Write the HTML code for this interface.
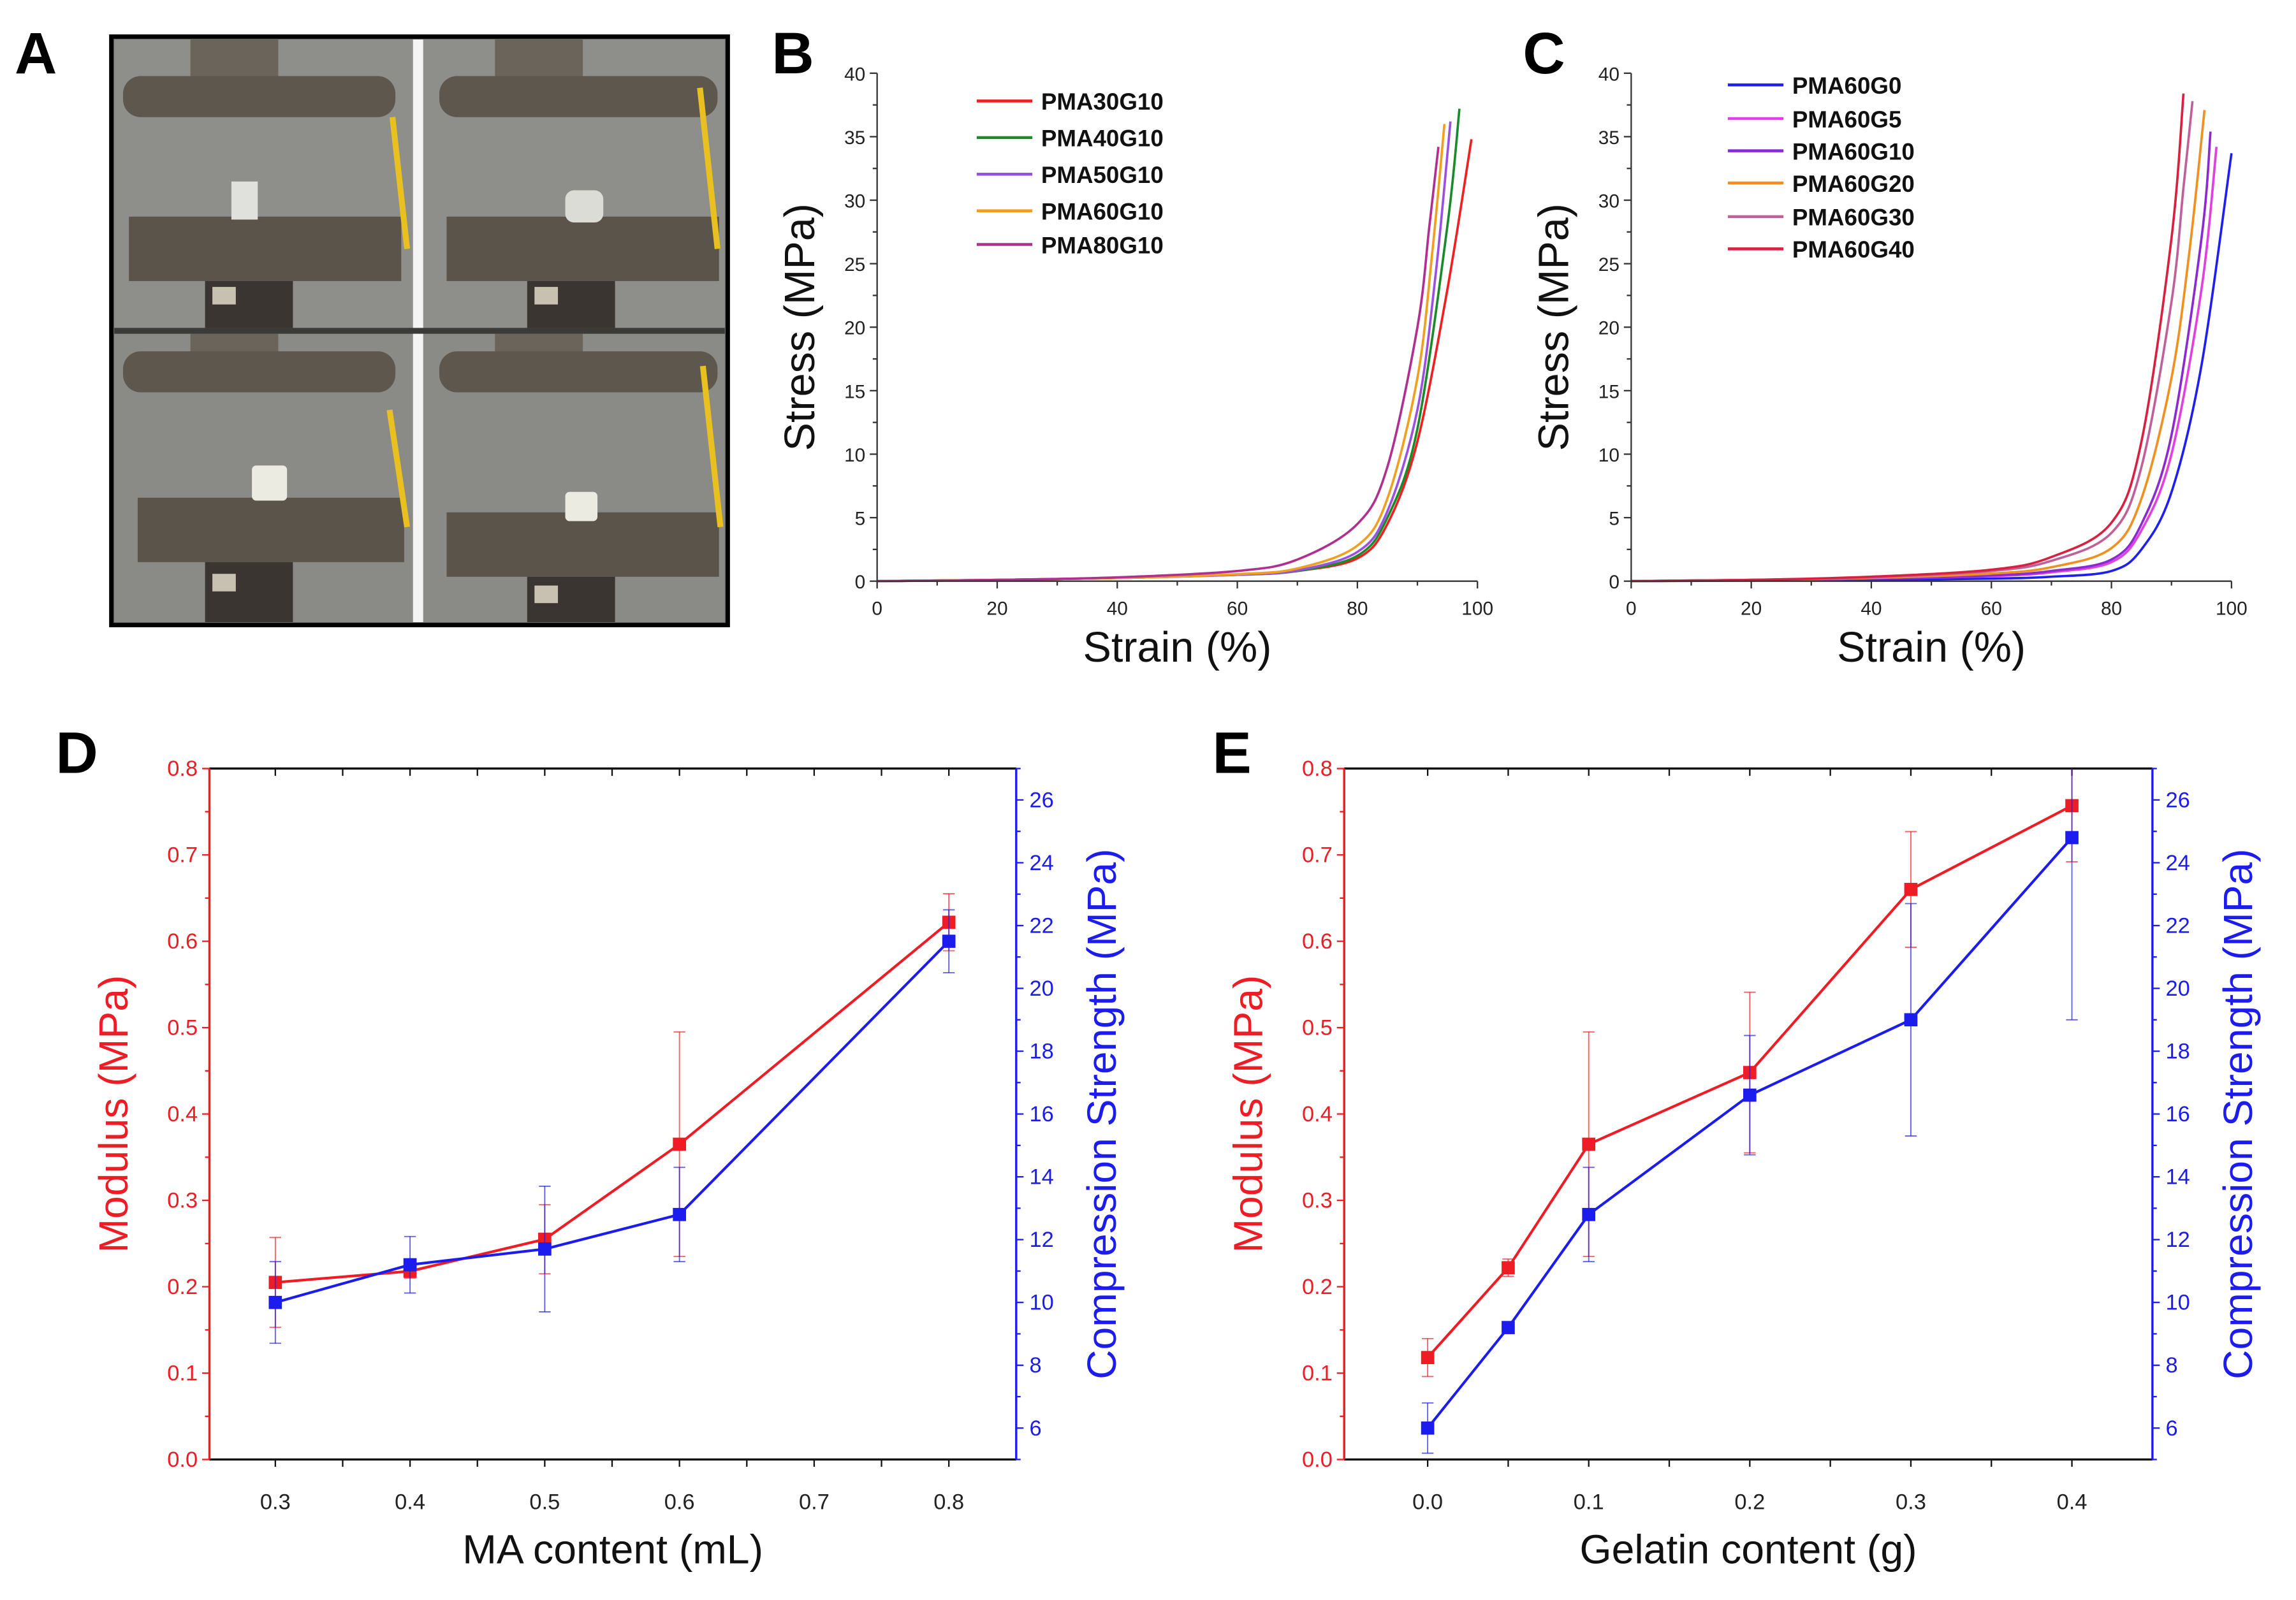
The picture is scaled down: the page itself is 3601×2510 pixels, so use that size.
<!DOCTYPE html>
<html><head><meta charset="utf-8">
<style>
html,body{margin:0;padding:0;background:#fff;}
svg{display:block;}
text{font-family:"Liberation Sans",Arial,sans-serif;}
.tk{font-family:"Liberation Sans Narrow","Liberation Sans",sans-serif;}
</style></head>
<body>
<svg id="fig" xmlns="http://www.w3.org/2000/svg" width="3601" height="2510" viewBox="0 0 1568 1093">
<rect x="0" y="0" width="1568" height="1093" fill="#fff"/>
<g id="photo">
  <rect x="76" y="25" width="421" height="402" fill="#6a6a66" stroke="#000" stroke-width="3"/>
  <rect x="78" y="27" width="204" height="197" fill="#8e8e8a"/>
  <rect x="289" y="27" width="206" height="197" fill="#8e8e8a"/>
  <rect x="78" y="228" width="204" height="197" fill="#8a8a86"/>
  <rect x="289" y="228" width="206" height="197" fill="#8a8a86"/>
  <rect x="282" y="27" width="7" height="398" fill="#f4f4f4"/>
  <rect x="78" y="224" width="417" height="4" fill="#3a3a38"/>
  <rect x="130" y="27" width="60" height="28" fill="#6a645a"/>
  <rect x="84" y="52" width="186" height="28" rx="12" fill="#5e574d"/>
  <rect x="338" y="27" width="60" height="28" fill="#6a645a"/>
  <rect x="300" y="52" width="190" height="28" rx="12" fill="#5e574d"/>
  <rect x="88" y="148" width="186" height="44" fill="#5a544a"/>
  <rect x="305" y="148" width="186" height="44" fill="#5a544a"/>
  <rect x="158" y="124" width="18" height="26" fill="#e0e0dc"/>
  <rect x="386" y="130" width="26" height="22" rx="6" fill="#dcdcd6"/>
  <rect x="140" y="192" width="60" height="32" fill="#3a3530"/>
  <rect x="360" y="192" width="60" height="32" fill="#3a3530"/>
  <rect x="145" y="196" width="16" height="12" fill="#c8c0b0"/>
  <rect x="365" y="196" width="16" height="12" fill="#c8c0b0"/>
  <rect x="130" y="228" width="60" height="20" fill="#6a645a"/>
  <rect x="84" y="240" width="186" height="28" rx="12" fill="#5e574d"/>
  <rect x="338" y="228" width="60" height="20" fill="#6a645a"/>
  <rect x="300" y="240" width="190" height="28" rx="12" fill="#5e574d"/>
  <rect x="94" y="340" width="182" height="44" fill="#5a544a"/>
  <rect x="305" y="350" width="186" height="44" fill="#5a544a"/>
  <rect x="172" y="318" width="24" height="24" rx="3" fill="#ecebe2"/>
  <rect x="386" y="336" width="22" height="20" rx="3" fill="#ecebe2"/>
  <rect x="140" y="384" width="60" height="41" fill="#3a3530"/>
  <rect x="360" y="394" width="60" height="31" fill="#3a3530"/>
  <rect x="145" y="392" width="16" height="12" fill="#c8c0b0"/>
  <rect x="365" y="400" width="16" height="12" fill="#c8c0b0"/>
  <line x1="268" y1="80" x2="278" y2="170" stroke="#e8c020" stroke-width="4"/>
  <line x1="478" y1="60" x2="490" y2="170" stroke="#e8c020" stroke-width="4"/>
  <line x1="266" y1="280" x2="278" y2="360" stroke="#e8c020" stroke-width="4"/>
  <line x1="480" y1="250" x2="492" y2="360" stroke="#e8c020" stroke-width="4"/>
</g>
<defs>
  <clipPath id="clipD"><rect x="143" y="525" width="551" height="472"/></clipPath>
  <clipPath id="clipE"><rect x="918" y="525" width="552" height="472"/></clipPath>
</defs>
</svg>
<script>
// ---------- Data: stress-strain (B) ----------
const bNames = ["PMA30G10","PMA40G10","PMA50G10","PMA60G10","PMA80G10"];
const bColors = ["#ee2020","#1a8a2a","#9a50e0","#f0a020","#b03090"];
const bStrain30 = [0,20,40,60,70,80,85,90,95,99];
const bStress30 = [0,0.1,0.25,0.5,0.8,1.8,4.5,11,23,34.8];
const bStrain40 = [0,20,40,60,70,80,85,90,95,97];
const bStress40 = [0,0.1,0.25,0.5,0.8,2.0,5.0,12,28,37.2];
const bStrain50 = [0,20,40,60,70,80,85,90,93,95.5];
const bStress50 = [0,0.1,0.25,0.5,0.85,2.3,5.5,13.5,24,36.2];
const bStrain60 = [0,20,40,60,70,80,85,90,92.5,94.5];
const bStress60 = [0,0.1,0.25,0.55,1.0,2.8,6.5,16,26,36];
const bStrain80 = [0,20,40,60,70,80,85,90,92,93.5];
const bStress80 = [0,0.1,0.3,0.8,1.7,4.5,9,20,28,34.2];
// ---------- Data: stress-strain (C) ----------
const cNames = ["PMA60G0","PMA60G5","PMA60G10","PMA60G20","PMA60G30","PMA60G40"];
const cColors = ["#2020ee","#e040e0","#8a2ad0","#f09020","#c0609a","#d82040"];
const cStrain0 = [0,20,40,60,70,80,85,90,95,100];
const cStress0 = [0,0.05,0.1,0.2,0.35,0.8,2.5,7,17,33.7];
const cStrain5 = [0,20,40,60,70,80,85,90,95,97.5];
const cStress5 = [0,0.1,0.2,0.4,0.7,1.5,4,10,23,34.2];
const cStrain10 = [0,20,40,60,70,80,85,90,95,96.5];
const cStress10 = [0,0.1,0.2,0.45,0.8,1.7,4.5,11.5,27,35.4];
const cStrain20 = [0,20,40,60,70,80,85,90,93,95.5];
const cStress20 = [0,0.1,0.25,0.6,1.1,2.6,6.5,16,26,37.1];
const cStrain30 = [0,20,40,60,70,80,85,90,92,93.5];
const cStress30 = [0,0.1,0.3,0.8,1.6,3.8,9,22,31,37.8];
const cStrain40 = [0,20,40,60,70,80,85,90,92];
const cStress40 = [0,0.1,0.35,0.9,1.9,4.6,11,27,38.4];
const stressTicks = [0,5,10,15,20,25,30,35,40];
const strainTicks = [0,20,40,60,80,100];
// ---------- Data: D ----------
const dX = [0.3,0.4,0.5,0.6,0.8];
const dMod = [0.205,0.218,0.255,0.365,0.622];
const dModErr = [0.052,0.008,0.04,0.13,0.033];
const dStr = [10.0,11.2,11.7,12.8,21.5];
const dStrErr = [1.3,0.9,2.0,1.5,1.0];
const dXTicks = [0.3,0.4,0.5,0.6,0.7,0.8];
// ---------- Data: E ----------
const eX = [0,0.05,0.1,0.2,0.3,0.4];
const eMod = [0.118,0.222,0.365,0.448,0.66,0.757];
const eModErr = [0.022,0.01,0.13,0.093,0.067,0.065];
const eStr = [6.0,9.2,12.8,16.6,19.0,24.8];
const eStrErr = [0.8,0.15,1.5,1.9,3.7,5.8];
const eXTicks = [0.0,0.1,0.2,0.3,0.4];
const modTicks = [0.0,0.1,0.2,0.3,0.4,0.5,0.6,0.7,0.8];
const strTicks = [6,8,10,12,14,16,18,20,22,24,26];

const NS = "http://www.w3.org/2000/svg";
const svg = document.getElementById('fig');
function add(parent, tag, attrs, name, text) {
  const el = document.createElementNS(NS, tag);
  for (const k in attrs) el.setAttribute(k, attrs[k]);
  
  
  if (text !== undefined) el.textContent = text;
  parent.appendChild(el);
  return el;
}
function smooth(pts) {
  let d = "M" + pts[0][0].toFixed(2) + "," + pts[0][1].toFixed(2);
  for (let i = 0; i < pts.length - 1; i++) {
    const p0 = pts[Math.max(0, i - 1)], p1 = pts[i], p2 = pts[i + 1], p3 = pts[Math.min(pts.length - 1, i + 2)];
    const c1x = p1[0] + (p2[0] - p0[0]) / 6, c1y = p1[1] + (p2[1] - p0[1]) / 6;
    const c2x = p2[0] - (p3[0] - p1[0]) / 6, c2y = p2[1] - (p3[1] - p1[1]) / 6;
    d += " C" + c1x.toFixed(2) + "," + c1y.toFixed(2) + " " + c2x.toFixed(2) + "," + c2y.toFixed(2) + " " + p2[0].toFixed(2) + "," + p2[1].toFixed(2);
  }
  return d;
}
function letter(ch, x, y) {
  add(svg, 'text', {x: x, y: y, 'font-size': 40, 'font-weight': 'bold', fill: '#000'}, 'panel-label-' + ch.toLowerCase(), ch);
}
letter('A', 10, 50); letter('B', 527, 50); letter('C', 1040, 50); letter('D', 38, 528); letter('E', 828, 528);

function stressPanel(id, x0, x1, y0, y1, strains, stresses, names, colors, legX, legYs, titleX) {
  const g = add(svg, 'g', {}, id);
  const xs = v => x0 + v / 100 * (x1 - x0);
  const ys = v => y0 - v / 40 * (y0 - y1);
  for (let i = 0; i < names.length; i++) {
    const pts = strains[i].map((s, j) => [xs(s), ys(stresses[i][j])]);
    add(g, 'path', {d: smooth(pts), fill: 'none', stroke: colors[i], 'stroke-width': 1.6}, 'curve-' + names[i].toLowerCase());
    add(g, 'line', {x1: legX, x2: legX + 38, y1: legYs[i], y2: legYs[i], stroke: colors[i], 'stroke-width': 2}, 'legend-line-' + names[i].toLowerCase());
    add(g, 'text', {x: legX + 44, y: legYs[i] + 6, 'font-size': 16, 'font-weight': 'bold', fill: '#111'}, 'legend-label-' + names[i].toLowerCase(), names[i]);
  }
  add(g, 'line', {x1: x0, x2: x0, y1: y0, y2: y1, stroke: '#333', 'stroke-width': 1}, 'y-axis');
  add(g, 'line', {x1: x0, x2: x1, y1: y0, y2: y0, stroke: '#333', 'stroke-width': 1}, 'x-axis');
  for (let v = 0; v <= 100; v += 10) {
    add(g, 'line', {x1: xs(v), x2: xs(v), y1: y0, y2: y0 + (v % 20 === 0 ? 5 : 3), stroke: '#333'}, 'x-tick');
  }
  strainTicks.forEach(v => add(g, 'text', {x: xs(v), y: y0 + 23, 'font-size': 13, 'text-anchor': 'middle', fill: '#222', class: 'tk'}, 'x-tick-label', String(v)));
  for (let v = 0; v <= 40; v += 2.5) {
    add(g, 'line', {x1: x0, x2: x0 - (v % 5 === 0 ? 5 : 3), y1: ys(v), y2: ys(v), stroke: '#333'}, 'y-tick');
  }
  stressTicks.forEach(v => add(g, 'text', {x: x0 - 8, y: ys(v) + 5, 'font-size': 13, 'text-anchor': 'end', fill: '#222', class: 'tk'}, 'y-tick-label', String(v)));
  add(g, 'text', {x: (x0 + x1) / 2, y: 452, 'font-size': 29, 'text-anchor': 'middle', fill: '#111'}, 'x-axis-title', 'Strain (%)');
  add(g, 'text', {x: 0, y: 0, 'font-size': 29, 'text-anchor': 'middle', fill: '#111', transform: 'translate(' + titleX + ',' + ((y0 + y1) / 2) + ') rotate(-90)'}, 'y-axis-title', 'Stress (MPa)');
}
stressPanel('panel-b-chart', 599, 1009, 397, 50,
  [bStrain30, bStrain40, bStrain50, bStrain60, bStrain80],
  [bStress30, bStress40, bStress50, bStress60, bStress80],
  bNames, bColors, 667, [69, 94, 119, 144, 167], 556);
stressPanel('panel-c-chart', 1114, 1524, 397, 50,
  [cStrain0, cStrain5, cStrain10, cStrain20, cStrain30, cStrain40],
  [cStress0, cStress5, cStress10, cStress20, cStress30, cStress40],
  cNames, cColors, 1180, [58, 81, 103, 125, 148, 170], 1071);

function dualPanel(id, clip, left, right, xOf, xTicks, xMinor, xs, mod, modErr, str, strErr, xTitle, modTitleX, strTitleX) {
  const top = 525, bot = 997;
  const g = add(svg, 'g', {}, id);
  const yL = v => bot - v / 0.8 * (bot - top);
  const yR = v => bot - (v - 5) / 22 * (bot - top);
  const red = '#ee1c24', blue = '#1c1cee';
  add(g, 'line', {x1: left, x2: right, y1: top, y2: top, stroke: '#111', 'stroke-width': 1.5}, 'top-axis');
  add(g, 'line', {x1: left, x2: right, y1: bot, y2: bot, stroke: '#111', 'stroke-width': 1.5}, 'x-axis');
  add(g, 'line', {x1: left, x2: left, y1: top, y2: bot, stroke: red, 'stroke-width': 1.5}, 'left-y-axis');
  add(g, 'line', {x1: right, x2: right, y1: top, y2: bot, stroke: blue, 'stroke-width': 1.5}, 'right-y-axis');
  xMinor.forEach(v => {
    add(g, 'line', {x1: xOf(v), x2: xOf(v), y1: bot, y2: bot + 5, stroke: '#111'}, 'x-tick');
    add(g, 'line', {x1: xOf(v), x2: xOf(v), y1: top, y2: top + 5, stroke: '#111'}, 'top-tick');
  });
  xTicks.forEach(v => add(g, 'text', {x: xOf(v), y: bot + 34, 'font-size': 15, 'text-anchor': 'middle', fill: '#222', class: 'tk'}, 'x-tick-label', v.toFixed(1)));
  for (let v = 0; v <= 0.8001; v += 0.05) {
    add(g, 'line', {x1: left, x2: left - (Math.round(v * 100) % 10 === 0 ? 5 : 3), y1: yL(v), y2: yL(v), stroke: red}, 'left-y-tick');
  }
  modTicks.forEach(v => add(g, 'text', {x: left - 8, y: yL(v) + 5, 'font-size': 15, 'text-anchor': 'end', fill: red, class: 'tk'}, 'left-y-tick-label', v.toFixed(1)));
  for (let v = 5; v <= 27; v += 1) {
    add(g, 'line', {x1: right, x2: right + (v % 2 === 0 ? 5 : 3), y1: yR(v), y2: yR(v), stroke: blue}, 'right-y-tick');
  }
  strTicks.forEach(v => add(g, 'text', {x: right + 9, y: yR(v) + 5, 'font-size': 15, 'text-anchor': 'start', fill: blue, class: 'tk'}, 'right-y-tick-label', String(v)));
  const plot = add(g, 'g', {'clip-path': 'url(#' + clip + ')'}, 'plot-area');
  const drawSeries = (vals, errs, yf, col, nm) => {
    add(plot, 'polyline', {points: xs.map((x, i) => xOf(x) + ',' + yf(vals[i])).join(' '), fill: 'none', stroke: col, 'stroke-width': 1.8}, nm + '-line');
    xs.forEach((x, i) => {
      const cx = xOf(x), hi = yf(vals[i] + errs[i]), lo = yf(vals[i] - errs[i]);
      add(plot, 'line', {x1: cx, x2: cx, y1: hi, y2: lo, stroke: col, 'stroke-width': 0.8, opacity: 0.7}, nm + '-error-bar');
      add(plot, 'line', {x1: cx - 4, x2: cx + 4, y1: hi, y2: hi, stroke: col, 'stroke-width': 0.8, opacity: 0.7}, nm + '-error-cap');
      add(plot, 'line', {x1: cx - 4, x2: cx + 4, y1: lo, y2: lo, stroke: col, 'stroke-width': 0.8, opacity: 0.7}, nm + '-error-cap');
      add(plot, 'rect', {x: cx - 4.5, y: yf(vals[i]) - 4.5, width: 9, height: 9, fill: col}, nm + '-marker');
    });
  };
  drawSeries(mod, modErr, yL, red, 'modulus');
  drawSeries(str, strErr, yR, blue, 'strength');
  add(g, 'text', {x: (left + right) / 2, y: 1068, 'font-size': 28, 'text-anchor': 'middle', fill: '#111'}, 'x-axis-title', xTitle);
  add(g, 'text', {x: 0, y: 0, 'font-size': 28, 'text-anchor': 'middle', fill: red, transform: 'translate(' + modTitleX + ',' + ((top + bot) / 2) + ') rotate(-90)'}, 'left-y-axis-title', 'Modulus (MPa)');
  add(g, 'text', {x: 0, y: 0, 'font-size': 28, 'text-anchor': 'middle', fill: blue, transform: 'translate(' + strTitleX + ',' + ((top + bot) / 2) + ') rotate(-90)'}, 'right-y-axis-title', 'Compression Strength (MPa)');
}
dualPanel('panel-d-chart', 'clipD', 143, 694, v => 188 + (v - 0.3) / 0.1 * 92,
  dXTicks, [0.3,0.35,0.4,0.45,0.5,0.55,0.6,0.65,0.7,0.75,0.8], dX, dMod, dModErr, dStr, dStrErr,
  'MA content (mL)', 87, 762);
dualPanel('panel-e-chart', 'clipE', 918, 1470, v => 975 + v / 0.1 * 110,
  eXTicks, [0,0.05,0.1,0.15,0.2,0.25,0.3,0.35,0.4], eX, eMod, eModErr, eStr, eStrErr,
  'Gelatin content (g)', 862, 1538);
</script>
</body></html>
